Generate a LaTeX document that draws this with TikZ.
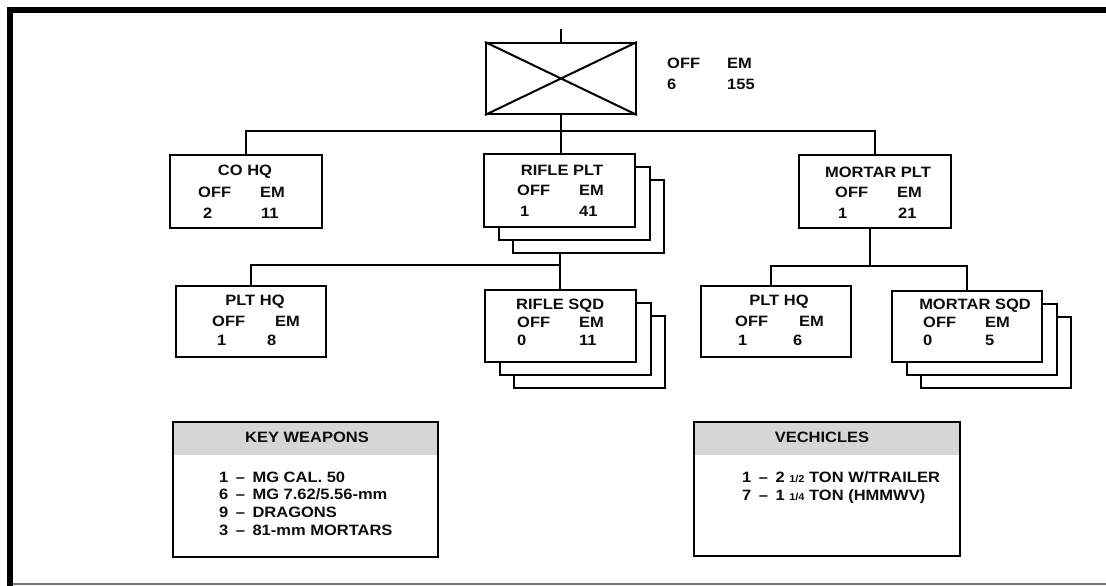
\documentclass[tikz,border=0pt]{standalone}
\usepackage{fontspec}
\setmainfont[FakeStretch=1.1, BoldFont={Liberation Sans Bold}]{Liberation Sans}
\begin{document}
\begin{tikzpicture}[x=1pt,y=-1pt,
  box/.style={draw, line width=2pt, fill=white, inner sep=0pt},
  conn/.style={line width=2pt},
  lbl/.style={inner sep=0pt, font=\bfseries\fontsize{15}{17.8}\selectfont, text=black!95},
  lw/.style={lbl, anchor=west}
]
\useasboundingbox (0,0) rectangle (1106,586);
% frame
\draw[line width=6pt, line join=miter] (10,590) -- (10,10) -- (1110,10);
\draw[line width=2pt, black!55] (13,584.3) -- (1106,584.3);

% top unit
\node[box, minimum width=150pt, minimum height=71pt] (top) at (561,78.5) {};
\draw[line width=2pt] (top.north west) -- (top.south east) (top.north east) -- (top.south west);
\coordinate (stub) at (561,29);
\node[lw] (tOFF) at (667,63) {OFF};
\node[lw] (tEM) at (727,63) {EM};
\node[lw] (t6) at (667,84) {6};
\node[lw] (t155) at (727,84) {155};

% level 1
\node[box, minimum width=152pt, minimum height=73pt] (cohq) at (246,191.5) {};
\node[box, minimum width=151pt, minimum height=73pt] (rplt3) at (588.5,216.5) {};
\node[box, minimum width=151pt, minimum height=73pt] (rplt2) at (574.5,203.5) {};
\node[box, minimum width=151pt, minimum height=73pt] (rplt) at (559.5,190.5) {};
\node[box, minimum width=152pt, minimum height=73pt] (mplt) at (875,191.5) {};

\node[lbl] (cohqT) at (245,172) {CO HQ};
\node[lw] (cohqO) at (198,192) {OFF};
\node[lw] (cohqE) at (260,192) {EM};
\node[lw] (cohqN1) at (203,213) {2};
\node[lw] (cohqN2) at (261,213) {11};

\node[lbl] (rpltT) at (562,170) {RIFLE PLT};
\node[lw] (rpltO) at (517,190) {OFF};
\node[lw] (rpltE) at (579,190) {EM};
\node[lw] (rpltN1) at (520,211) {1};
\node[lw] (rpltN2) at (579,211) {41};

\node[lbl] (mpltT) at (878,172) {MORTAR PLT};
\node[lw] (mpltO) at (835,192) {OFF};
\node[lw] (mpltE) at (897,192) {EM};
\node[lw] (mpltN1) at (838,213) {1};
\node[lw] (mpltN2) at (898,213) {21};

% level 2
\node[box, minimum width=150pt, minimum height=71pt] (phq1) at (251,321.5) {};
\node[box, minimum width=151pt, minimum height=72pt] (rsqd3) at (589.5,352) {};
\node[box, minimum width=151pt, minimum height=72pt] (rsqd2) at (575.5,339) {};
\node[box, minimum width=151pt, minimum height=72pt] (rsqd) at (560.5,326) {};
\node[box, minimum width=150pt, minimum height=71pt] (phq2) at (776,321.5) {};
\node[box, minimum width=150pt, minimum height=71pt] (msqd3) at (996,352.5) {};
\node[box, minimum width=150pt, minimum height=71pt] (msqd2) at (982,339.5) {};
\node[box, minimum width=150pt, minimum height=71pt] (msqd) at (967,326.5) {};

\node[lbl] (phq1T) at (255,302) {PLT HQ};
\node[lw] (phq1O) at (212,321) {OFF};
\node[lw] (phq1E) at (275,321) {EM};
\node[lw] (phq1N1) at (217,340) {1};
\node[lw] (phq1N2) at (267,340) {8};

\node[lw] (rsqdT) at (516,306) {RIFLE SQD};
\node[lw] (rsqdO) at (517,322) {OFF};
\node[lw] (rsqdE) at (579,322) {EM};
\node[lw] (rsqdN1) at (517,340) {0};
\node[lw] (rsqdN2) at (579,340) {11};

\node[lbl] (phq2T) at (779,302) {PLT HQ};
\node[lw] (phq2O) at (735,321) {OFF};
\node[lw] (phq2E) at (799,321) {EM};
\node[lw] (phq2N1) at (738,340) {1};
\node[lw] (phq2N2) at (793,340) {6};

\node[lbl] (msqdT) at (975,306) {MORTAR SQD};
\node[lw] (msqdO) at (923,322) {OFF};
\node[lw] (msqdE) at (985,322) {EM};
\node[lw] (msqdN1) at (923,340) {0};
\node[lw] (msqdN2) at (985,340) {5};

% connectors
\coordinate (bus) at (561,131);
\coordinate (rj) at (560,265);
\coordinate (mj) at (869.5,266);
\draw[conn] (top.north) -- (stub);
\draw[conn] (top.south) -- (rplt.north -| top.south);
\draw[conn] (cohq.north) |- (bus) -| (mplt.north);
\draw[conn] (rplt3.south -| rj) -- (rsqd.north -| rj);
\draw[conn] (phq1.north) |- (rj);
\draw[conn] (mplt.south -| mj) -- (mj);
\draw[conn] ([xshift=-5pt]phq2.north) |- (mj) -| (msqd.north);

% key weapons
\tikzset{hdrbox/.style={box, path picture={\fill[black!16] (path picture bounding box.north west) rectangle ([yshift=-33pt]path picture bounding box.north east);}}}
\node[hdrbox, minimum width=265pt, minimum height=135pt] (kw) at (305.5,489.5) {};
\node[lbl] (kwT) at (307,437) {KEY WEAPONS};
\node[lbl, anchor=north west, align=left] (kwL) at (219,471.5) {1\hspace{0.5em}--\hspace{0.5em}MG CAL. 50\\6\hspace{0.5em}--\hspace{0.5em}MG 7.62/5.56-mm\\9\hspace{0.5em}--\hspace{0.5em}DRAGONS\\3\hspace{0.5em}--\hspace{0.5em}81-mm MORTARS};

% vehicles
\node[hdrbox, minimum width=266pt, minimum height=134pt] (veh) at (827,489) {};
\node[lbl] (vehT) at (822,437) {VECHICLES};
\node[lbl, anchor=north west, align=left] (vehL) at (742,471.5) {1\hspace{0.5em}--\hspace{0.5em}2 {\fontsize{10}{10}\selectfont 1/2} TON W/TRAILER\\7\hspace{0.5em}--\hspace{0.5em}1 {\fontsize{10}{10}\selectfont 1/4} TON (HMMWV)};
\end{tikzpicture}
\end{document}
